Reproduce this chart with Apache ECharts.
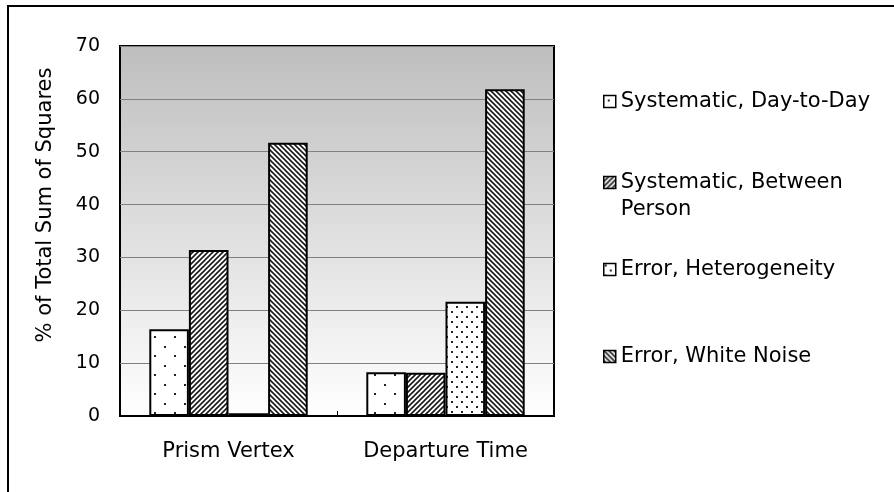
<!DOCTYPE html>
<html>
<head>
<meta charset="utf-8">
<script src="https://cdn.jsdelivr.net/npm/echarts@6/dist/echarts.min.js"></script>
<style>
  html, body { margin: 0; padding: 0; background: #fff; }
  #chart { width: 894px; height: 492px; }
</style>
</head>
<body>
<div id="chart"></div>
<script>
const categories = ['Prism Vertex', 'Departure Time']
const seriesNames = ['Systematic, Day-to-Day', 'Systematic, Between Person', 'Error, Heterogeneity', 'Error, White Noise']
const dayToDay = [16.4, 8.3]
const betweenPerson = [31.4, 8.2]
const heterogeneity = [0.5, 21.6]
const whiteNoise = [51.7, 61.8]
const yTicks = { min: 0, max: 70, interval: 10 }

const FONT = '"DejaVu Sans", "Liberation Sans", sans-serif'

// small canvas tiles used as fill patterns
function tile(w, h, draw) {
  const c = document.createElement('canvas')
  c.width = w
  c.height = h
  const ctx = c.getContext('2d')
  ctx.fillStyle = '#fff'
  ctx.fillRect(0, 0, w, h)
  draw(ctx, w, h)
  return { image: c, repeat: 'repeat' }
}

function dots(w, h, pts) {
  return tile(w, h, (ctx) => {
    ctx.fillStyle = '#222'
    pts.forEach(p => ctx.fillRect(p[0], p[1], 2, 2))
  })
}

function stripes(s, forward) {
  return tile(s, s, (ctx) => {
    ctx.strokeStyle = '#1a1a1a'
    ctx.lineWidth = 1.6
    ctx.beginPath()
    if (forward) {
      ctx.moveTo(-1, s + 1); ctx.lineTo(s + 1, -1)
      ctx.moveTo(-1, 1); ctx.lineTo(1, -1)
      ctx.moveTo(s - 1, s + 1); ctx.lineTo(s + 1, s - 1)
    } else {
      ctx.moveTo(-1, -1); ctx.lineTo(s + 1, s + 1)
      ctx.moveTo(s - 1, -1); ctx.lineTo(s + 1, 1)
      ctx.moveTo(-1, s - 1); ctx.lineTo(1, s + 1)
    }
    ctx.stroke()
  })
}

const fills = [
  dots(20, 19, [[4, 4], [14, 13]]),
  stripes(5, true),
  dots(10, 10, [[1, 1], [6, 6]]),
  stripes(5, false)
]

const values = [dayToDay, betweenPerson, heterogeneity, whiteNoise]

const chart = echarts.init(document.getElementById('chart'))

const legendTops = [88, 142, 256, 343]

chart.setOption({
  animation: false,
  backgroundColor: '#fff',
  textStyle: { fontFamily: FONT, color: '#000' },
  graphic: [{
    type: 'rect',
    shape: { x: 8, y: 6, width: 900, height: 500 },
    style: { fill: 'none', stroke: '#000', lineWidth: 2 },
    silent: true
  }],
  grid: {
    left: 120, top: 46, width: 434, height: 370,
    show: true,
    borderColor: '#000',
    borderWidth: 2,
    backgroundColor: new echarts.graphic.LinearGradient(0, 0, 0, 1, [
      { offset: 0, color: '#bebebe' },
      { offset: 1, color: '#ffffff' }
    ])
  },
  legend: seriesNames.map((name, i) => ({
    data: [name],
    orient: 'vertical',
    left: 603,
    top: legendTops[i],
    padding: 0,
    icon: 'rect',
    itemWidth: 12,
    itemHeight: 12,
    selectedMode: false,
    itemStyle: { borderColor: '#000', borderWidth: 1.5 },
    // leading blank line keeps the icon beside the first text line
    formatter: n => n === 'Systematic, Between Person' ? '\nSystematic, Between\nPerson' : n,
    textStyle: { fontFamily: FONT, fontSize: 21, color: '#000', lineHeight: 27 }
  })),
  xAxis: {
    type: 'category',
    data: categories,
    axisLine: { show: true, lineStyle: { color: '#000', width: 2 } },
    axisTick: { show: true, inside: true, length: 5, lineStyle: { color: '#000' } },
    axisLabel: { margin: 25, fontSize: 21, color: '#000', fontFamily: FONT }
  },
  yAxis: {
    type: 'value',
    min: yTicks.min,
    max: yTicks.max,
    interval: yTicks.interval,
    name: '% of Total Sum of Squares',
    nameLocation: 'middle',
    nameGap: 64,
    nameTextStyle: { fontSize: 21, color: '#000', fontFamily: FONT, padding: [0, 0, 0, 52] },
    axisLine: { show: false },
    axisTick: { show: false },
    axisLabel: { margin: 20, fontSize: 19, color: '#000', fontFamily: FONT },
    splitLine: { show: true, lineStyle: { color: '#808080', width: 1 } }
  },
  series: seriesNames.map((name, i) => ({
    name,
    type: 'bar',
    data: values[i],
    barGap: 0,
    barCategoryGap: '27%',
    itemStyle: { color: fills[i], borderColor: '#000', borderWidth: 2 }
  }))
})
</script>
</body>
</html>
